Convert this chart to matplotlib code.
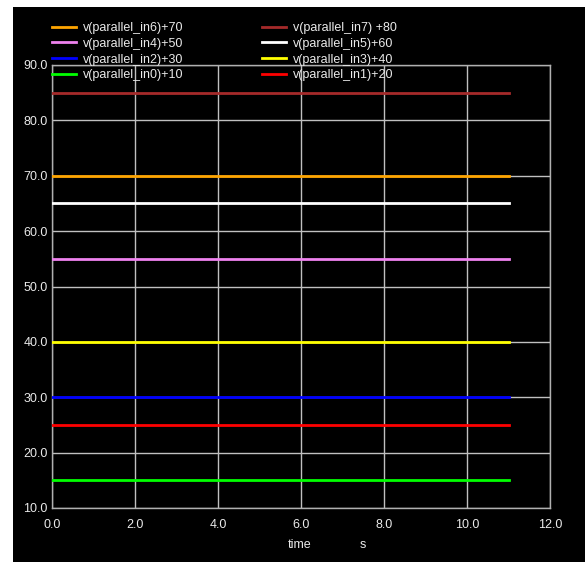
import matplotlib
matplotlib.use('Agg')
import matplotlib.pyplot as plt
from matplotlib.patches import Rectangle

plt.rcParams['font.family'] = ['Liberation Sans', 'DejaVu Sans']
plt.rcParams['font.size'] = 9

# Du lieu
time = [0.0, 11.0]
labels_left = ['v(parallel_in6)+70', 'v(parallel_in4)+50', 'v(parallel_in2)+30', 'v(parallel_in0)+10']
values_left = [70, 55, 30, 15]
colors_left = ['#ffa500', '#ee82ee', '#0000ff', '#00ff00']
labels_right = ['v(parallel_in7) +80', 'v(parallel_in5)+60', 'v(parallel_in3)+40', 'v(parallel_in1)+20']
values_right = [85, 65, 40, 25]
colors_right = ['#a52a2a', '#ffffff', '#ffff00', '#ff0000']
x_ticks = [0, 2, 4, 6, 8, 10, 12]
y_ticks = [10, 20, 30, 40, 50, 60, 70, 80, 90]

W, H = 585, 562
fig = plt.figure(figsize=(W / 100, H / 100), dpi=100, facecolor='white')
fig.patches.append(Rectangle((13 / W, 0), 1 - 13 / W, 1 - 7 / H,
                             transform=fig.transFigure, facecolor='black',
                             edgecolor='none', zorder=-10))

ax = fig.add_axes([52 / W, 1 - 508 / H, (550 - 52) / W, (508 - 65) / H])
ax.set_facecolor('black')

txt = '#eaeaea'
h_left, h_right = [], []
for lab, v, c in zip(labels_left, values_left, colors_left):
    l, = ax.plot(time, [v, v], color=c, lw=2, label=lab, zorder=3)
    h_left.append(l)
for lab, v, c in zip(labels_right, values_right, colors_right):
    l, = ax.plot(time, [v, v], color=c, lw=2, label=lab, zorder=3)
    h_right.append(l)

ax.set_xlim(0, 12)
ax.set_ylim(10, 90)
ax.set_xticks(x_ticks)
ax.set_xticklabels([f'{t:.1f}' for t in x_ticks])
ax.set_yticks(y_ticks)
ax.set_yticklabels([f'{t:.1f}' for t in y_ticks])
ax.tick_params(length=0, colors=txt, labelsize=9)
ax.tick_params(axis='x', pad=8)
ax.tick_params(axis='y', pad=3)
ax.grid(True, color='#c0c0c0', lw=1)
for s in ax.spines.values():
    s.set_color('#b0b0b0')
    s.set_linewidth(1)

fig.text(300 / W, 1 - 545 / H, 'time', color=txt, ha='center', va='center', fontsize=9)
fig.text(363 / W, 1 - 545 / H, 's', color=txt, ha='center', va='center', fontsize=9)

common = dict(loc='upper left', frameon=False, borderpad=0, borderaxespad=0,
              handlelength=1.95, handletextpad=0.55, labelspacing=0.3,
              labelcolor=txt, fontsize=9)
leg1 = fig.legend(handles=h_left, bbox_to_anchor=(52 / W, 1 - 22 / H), **common)
leg2 = fig.legend(handles=h_right, bbox_to_anchor=(262 / W, 1 - 22 / H), **common)

fig.savefig('out.png', dpi=100, facecolor='white')
